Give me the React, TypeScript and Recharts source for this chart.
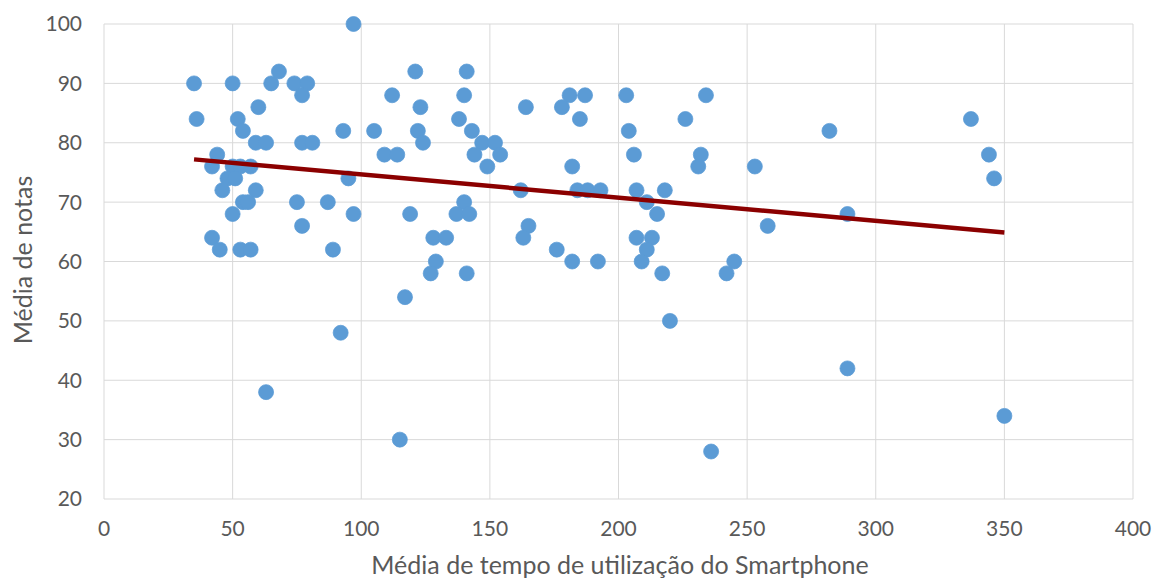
import React from "react";
import {
  ScatterChart,
  Scatter,
  XAxis,
  YAxis,
  CartesianGrid,
  Label,
} from "recharts";

// tempo médio de uso (min) e média de notas
const tempo = [
  97, 35, 50, 68, 65, 74, 79, 77, 112, 60, 36, 52, 54, 93, 105, 59, 63, 77, 81, 44,
  109, 114, 42, 50, 53, 57, 48, 51, 95, 46, 59, 54, 56, 75, 87, 50, 97, 77, 42, 45,
  53, 57, 89, 92, 63, 115, 121, 141, 140, 123, 164, 181, 187, 178, 185, 138, 122, 143, 124, 147,
  152, 144, 154, 149, 182, 162, 184, 188, 193, 140, 119, 137, 142, 165, 163, 128, 133, 176, 129, 127,
  141, 117, 182, 192, 203, 234, 204, 226, 282, 206, 232, 231, 253, 207, 218, 211, 215, 258, 207, 213,
  211, 209, 217, 220, 245, 242, 236, 337, 344, 346, 289, 289, 350,
];

const notas = [
  100, 90, 90, 92, 90, 90, 90, 88, 88, 86, 84, 84, 82, 82, 82, 80, 80, 80, 80, 78,
  78, 78, 76, 76, 76, 76, 74, 74, 74, 72, 72, 70, 70, 70, 70, 68, 68, 66, 64, 62,
  62, 62, 62, 48, 38, 30, 92, 92, 88, 86, 86, 88, 88, 86, 84, 84, 82, 82, 80, 80,
  80, 78, 78, 76, 76, 72, 72, 72, 72, 70, 68, 68, 68, 66, 64, 64, 64, 62, 60, 58,
  58, 54, 60, 60, 88, 88, 82, 84, 82, 78, 78, 76, 76, 72, 72, 70, 68, 66, 64, 64,
  62, 60, 58, 50, 60, 58, 28, 84, 78, 74, 68, 42, 34,
];

// linha de tendência (início e fim)
const tendencia = [
  { x: 35, y: 77.2 },
  { x: 350, y: 64.9 },
];

const xTicks = [0, 50, 100, 150, 200, 250, 300, 350, 400];
const yTicks = [20, 30, 40, 50, 60, 70, 80, 90, 100];

const pontos = tempo.map((x, i) => ({ x, y: notas[i] }));

const FONT = "Lato, 'Open Sans', sans-serif";
const TXT = "#595959";

const Dot = (p: any) => (
  <circle cx={p.cx} cy={p.cy} r={7.5} fill="#5B9BD5" stroke="#5B9BD5" strokeWidth={0.75} />
);

export default function App() {
  return (
    <div style={{ position: "absolute", left: 0, top: 0, background: "#fff" }}>
      <ScatterChart
        width={1163}
        height={581}
        margin={{ top: 24, right: 30, bottom: 0, left: 0 }}
      >
        <CartesianGrid stroke="#d9d9d9" strokeWidth={1} />
        <XAxis
          type="number"
          dataKey="x"
          domain={[0, 400]}
          ticks={xTicks}
          height={82}
          axisLine={false}
          tickLine={false}
          tickSize={0}
          tickMargin={22}
          tick={{ fill: TXT, fontSize: 21, fontFamily: FONT }}
          interval={0}
        >
          <Label
            content={() => (
              <text
                x={620}
                y={574}
                textAnchor="middle"
                fill={TXT}
                fontSize={25}
                fontFamily={FONT}
              >
                Média de tempo de utilização do Smartphone
              </text>
            )}
          />
        </XAxis>
        <YAxis
          type="number"
          dataKey="y"
          domain={[20, 100]}
          ticks={yTicks}
          width={104}
          axisLine={false}
          tickLine={false}
          tickSize={0}
          tickMargin={22}
          tick={{ fill: TXT, fontSize: 21, fontFamily: FONT }}
          interval={0}
        >
          <Label
            content={() => (
              <text
                x={32}
                y={260}
                transform="rotate(-90 32 260)"
                textAnchor="middle"
                fill={TXT}
                fontSize={25}
                fontFamily={FONT}
              >
                Média de notas
              </text>
            )}
          />
        </YAxis>
        <Scatter data={pontos} shape={Dot} isAnimationActive={false} />
        <Scatter
          data={tendencia}
          line={{ stroke: "#8B0000", strokeWidth: 4.5 }}
          shape={() => <g />}
          isAnimationActive={false}
        />
      </ScatterChart>
    </div>
  );
}
